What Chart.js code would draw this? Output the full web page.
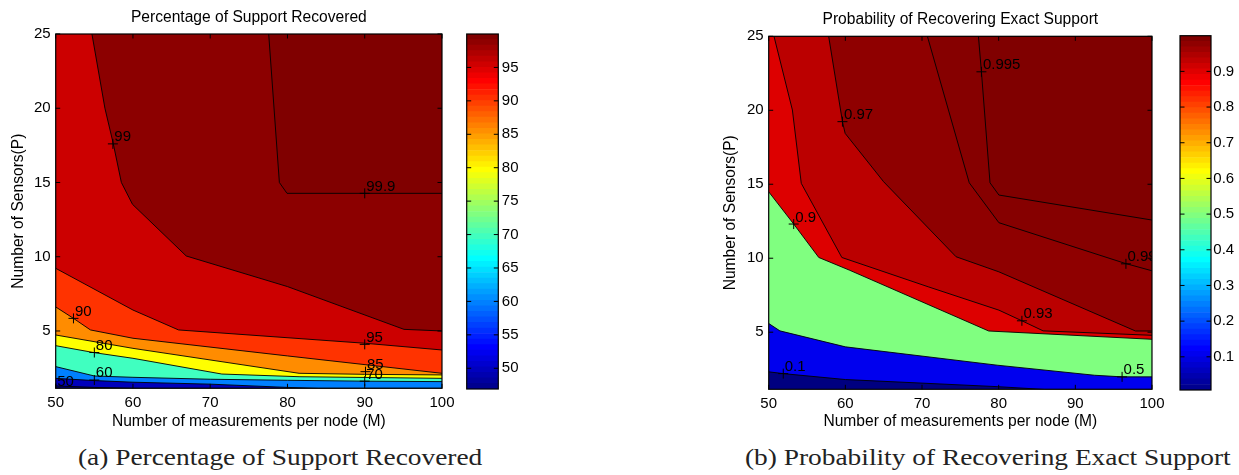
<!DOCTYPE html>
<html>
<head>
<meta charset="utf-8">
<script src="https://cdn.jsdelivr.net/npm/chart.js@4.4.0/dist/chart.umd.min.js"></script>
<style>
    body { margin: 0; background: #fff; }
    #wrap { position: relative; width: 1239px; height: 475px; overflow: hidden; }
    canvas { position: absolute; top: 0; }
    .cap { position: absolute; top: 445px; font-family: "Liberation Serif", "Times New Roman", serif; font-size: 23px; color: #222; white-space: nowrap; transform: scaleX(1.19); transform-origin: left top; }
</style>
</head>
<body>
<div id="wrap">
    <canvas id="pctChart" width="460" height="440" style="left:0"></canvas>
    <canvas id="pctBar" width="80" height="440" style="left:460px"></canvas>
    <canvas id="probChart" width="470" height="440" style="left:700px"></canvas>
    <canvas id="probBar" width="79" height="440" style="left:1160px"></canvas>
    <div class="cap" style="left:78px">(a) Percentage of Support Recovered</div>
    <div class="cap" style="left:745px">(b) Probability of Recovering Exact Support</div>
</div>
<script>
// ── Axes ──
const xTicks = [50, 60, 70, 80, 90, 100];
const yTicks = [5, 10, 15, 20, 25];
const pMin = 1.14;

// ── (a) Percentage of support recovered: contour lines [M, P] ──
const pct50 = [[50, 1.3], [55, 1.2], [60, 1.14], [100, 1.14]];
const pct60 = [[50, 1.81], [55, 1.66], [60, 1.55], [70, 1.42], [80, 1.2], [84, 1.14], [100, 1.14]];
const pct70 = [[50, 2.6], [55, 1.97], [60, 1.88], [70, 1.75], [80, 1.68], [90, 1.62], [100, 1.59]];
const pct80 = [[50, 4.01], [55, 3.54], [60, 3.16], [71.5, 2.1], [81.5, 1.92], [100, 1.81]];
const pct85 = [[50, 4.73], [60, 3.83], [81.5, 2.15], [90, 2.08], [100, 2.04]];
const pct90 = [[50, 6.62], [52.3, 5.85], [54.5, 5.07], [60, 4.51], [80, 3.32], [100, 2.15]];
const pct95 = [[50, 9.22], [60, 6.41], [65.9, 5.07], [90.1, 4.17], [100, 3.72]];
const pct99 = [[54.69, 25], [56.37, 20], [57.44, 17.64], [58.5, 15], [59.94, 13.53], [66.9, 10.05], [80, 7.99], [95.08, 5.11], [100, 5.0]];
const pct999 = [[77.57, 25], [78.95, 15], [79.94, 14.27], [100, 14.27]];
const pctLevels = ['50', '60', '70', '80', '85', '90', '95', '99', '99.9'];
const pctLabelPos = [[50, 1.14], [55, 1.7], [90, 1.62], [55, 3.55], [90.1, 2.26], [52.3, 5.85], [90, 4.1], [57.4, 17.6], [90, 14.27]];
const pctColors = ['#000080', '#0000bb', '#0080ff', '#40ffc0', '#ffff00', '#ff8c00', '#ff3300', '#cc0000', '#8c0000', '#800000'];
const pctRange = [46.9, 100];
const pctBarTicks = [50, 55, 60, 65, 70, 75, 80, 85, 90, 95];

// ── (b) Probability of recovering exact support: contour lines [M, P] ──
const prob01 = [[50, 2.32], [51.9, 2.2], [60, 1.8], [79.8, 1.32], [86, 1.13], [100, 1.13]];
const prob05 = [[50, 5.59], [51.46, 5.09], [60, 4.01], [79.8, 2.77], [92.5, 2.09], [96.1, 1.98], [100, 1.98]];
const prob09 = [[50, 14.49], [53.26, 12.31], [56.53, 10.05], [60.5, 9.2], [78.7, 5.08], [100, 4.52]];
const prob093 = [[50.69, 25], [53.09, 20.02], [54.25, 15.06], [59.54, 10.05], [70.8, 8.07], [80.03, 6.49], [83.03, 5.77], [85.8, 5.09], [100, 4.79]];
const prob097 = [[57.82, 25], [59.62, 19.23], [59.97, 18.44], [64.99, 15.17], [74.44, 10.1], [80.03, 9.08], [97.85, 5.08], [100, 5.08]];
const prob099 = [[70.7, 25], [76.16, 15.1], [80.03, 12.4], [96.56, 9.64], [100, 9.15]];
const prob0995 = [[77.36, 25], [77.75, 22.6], [78.87, 15.1], [80.03, 14.27], [100, 12.58]];
const probLevels = ['0.1', '0.5', '0.9', '0.93', '0.97', '0.99', '0.995'];
const probLabelPos = [[51.9, 2.2], [96.1, 1.98], [53.26, 12.31], [83.03, 5.77], [59.62, 19.23], [96.6, 9.62], [77.75, 22.6]];
const probColors = ['#000080', '#0000ee', '#80ff80', '#dd0000', '#bb0000', '#8f0000', '#860000', '#800000'];
const probRange = [0.007, 1];
const probBarTicks = [0.1, 0.2, 0.3, 0.4, 0.5, 0.6, 0.7, 0.8, 0.9];

// ── Chart Defaults ──
const FONT = "'Liberation Sans', Arial, sans-serif";
Chart.defaults.font.family = FONT;
Chart.defaults.font.size = 15;
Chart.defaults.color = '#000';
Chart.defaults.animation = false;
Chart.defaults.plugins.legend.display = false;
Chart.defaults.plugins.tooltip.enabled = false;

// ── MATLAB jet(64) ──
function jet64(i) {
    const u = k => k < 1 || k > 47 ? 0 : k <= 16 ? k / 16 : k <= 31 ? 1 : (48 - k) / 16;
    const r = i >= 25 ? u(i - 24) : 0;
    const g = i >= 9 && i <= 55 ? u(i - 8) : 0;
    const b = i <= 39 ? u(i + 8) : 0;
    return `rgb(${Math.round(r * 255)},${Math.round(g * 255)},${Math.round(b * 255)})`;
}

// ── Frame, inward ticks, title and contour labels ──
const framePlugin = {
    id: 'frame',
    afterDatasetsDraw(chart, args, opts) {
        const { ctx, chartArea: a, scales } = chart;
        const tl = 4.5;
        ctx.save();
        ctx.strokeStyle = '#000';
        ctx.lineWidth = 1;
        ctx.beginPath();
        if (opts.xTicks) {
            scales.x.ticks.forEach(t => {
                const px = scales.x.getPixelForValue(t.value);
                ctx.moveTo(px, a.bottom); ctx.lineTo(px, a.bottom - tl);
                ctx.moveTo(px, a.top); ctx.lineTo(px, a.top + tl);
            });
        }
        scales.y.ticks.forEach(t => {
            const py = scales.y.getPixelForValue(t.value);
            ctx.moveTo(a.left, py); ctx.lineTo(a.left + tl, py);
            ctx.moveTo(a.right, py); ctx.lineTo(a.right - tl, py);
        });
        ctx.stroke();

        // contour level labels
        const lab = chart.data.datasets.find(d => d.levelText);
        if (lab) {
            ctx.save();
            ctx.beginPath();
            ctx.rect(a.left, a.top, a.width, a.height);
            ctx.clip();
            ctx.font = `15px ${FONT}`;
            ctx.fillStyle = '#000';
            ctx.textBaseline = 'alphabetic';
            lab.data.forEach((p, i) => {
                const px = scales.x.getPixelForValue(p.x);
                const py = scales.y.getPixelForValue(p.y);
                ctx.fillText(lab.levelText[i], px + 1.5, py - 2.5);
            });
            ctx.restore();
        }

        ctx.lineWidth = 1.2;
        ctx.strokeRect(a.left, a.top, a.right - a.left, a.bottom - a.top);

        if (opts.title) {
            ctx.font = `15.6px ${FONT}`;
            ctx.fillStyle = '#000';
            ctx.textAlign = 'center';
            ctx.textBaseline = 'alphabetic';
            ctx.fillText(opts.title, (a.left + a.right) / 2, a.top - 12.3);
        }
        ctx.restore();
    }
};

// ── Filled contour band ──
function band(points, color, border = true) {
    return {
        data: points.map(([x, y]) => ({ x, y })),
        fill: 'end',
        backgroundColor: color,
        borderColor: '#000',
        borderWidth: border ? 0.9 : 0,
        pointRadius: 0,
        tension: 0
    };
}

// ── Create Contour Chart ──
function createContourChart(canvasId, lines, colors, levels, labelPos, box, title) {
    const ctx = document.getElementById(canvasId);
    const bands = [band([[50, pMin], [100, pMin]], colors[0], false)];
    lines.forEach((l, i) => bands.push(band(l, colors[i + 1])));
    const labels = {
        type: 'scatter',
        data: labelPos.map(([x, y]) => ({ x, y })),
        levelText: levels,
        pointStyle: 'cross',
        pointRadius: 5,
        borderColor: '#000',
        borderWidth: 1,
        backgroundColor: '#000'
    };

    // first dataset is drawn on top, so highest level goes first
    return new Chart(ctx, {
        type: 'line',
        data: { datasets: [labels, ...bands.reverse()] },
        options: {
            responsive: false,
            layout: { padding: { top: box.top, right: box.right, bottom: 0, left: 0 } },
            scales: {
                x: {
                    type: 'linear', min: 50, max: 100,
                    afterBuildTicks: s => { s.ticks = xTicks.map(v => ({ value: v })); },
                    afterFit: s => { s.height = box.xh; },
                    grid: { display: false, drawTicks: false },
                    border: { display: false },
                    ticks: { padding: 5.5, maxRotation: 0 },
                    title: { display: true, text: 'Number of measurements per node (M)', font: { size: 15.6 }, padding: { top: 0, bottom: 9 } }
                },
                y: {
                    type: 'linear', min: pMin, max: 25,
                    afterBuildTicks: s => { s.ticks = yTicks.map(v => ({ value: v })); },
                    afterFit: s => { s.width = box.yw; },
                    grid: { display: false, drawTicks: false },
                    border: { display: false },
                    ticks: { padding: 5 },
                    title: { display: true, text: 'Number of Sensors(P)', font: { size: 15.6 }, padding: { top: box.yt, bottom: 0 } }
                }
            },
            plugins: { frame: { xTicks: true, title: title } }
        },
        plugins: [framePlugin]
    });
}

// ── Create Colorbar ──
function createColorbar(canvasId, range, ticks, box) {
    const ctx = document.getElementById(canvasId);
    const step = (range[1] - range[0]) / 64;
    const datasets = Array.from({ length: 64 }, (_, i) => ({
        data: [[range[0] + i * step, range[0] + (i + 1) * step]],
        backgroundColor: jet64(i + 1),
        borderWidth: 0,
        grouped: false,
        barPercentage: 1,
        categoryPercentage: 1
    }));

    return new Chart(ctx, {
        type: 'bar',
        data: { labels: [''], datasets },
        options: {
            responsive: false,
            layout: { padding: { top: box.top, right: 0, bottom: box.bottom, left: box.left } },
            scales: {
                x: { display: false },
                y: {
                    position: 'right', min: range[0], max: range[1],
                    afterBuildTicks: s => { s.ticks = ticks.map(v => ({ value: v })); },
                    afterFit: s => { s.width = box.yw; },
                    grid: { display: false, drawTicks: false },
                    border: { display: false },
                    ticks: { padding: box.pad }
                }
            },
            plugins: { frame: { xTicks: false } }
        },
        plugins: [framePlugin]
    });
}

createContourChart('pctChart',
    [pct50, pct60, pct70, pct80, pct85, pct90, pct95, pct99, pct999],
    pctColors, pctLevels, pctLabelPos,
    { top: 34, right: 16.7, xh: 51.7, yw: 55.7, yt: 9 },
    'Percentage of Support Recovered');

createContourChart('probChart',
    [prob01, prob05, prob09, prob093, prob097, prob099, prob0995],
    probColors, probLevels, probLabelPos,
    { top: 36.3, right: 13.3, xh: 50.7, yw: 68.7, yt: 21.5 },
    'Probability of Recovering Exact Support');

createColorbar('pctBar', pctRange, pctBarTicks, { top: 34, bottom: 51, left: 6.7, yw: 41.7, pad: 3.5 });
createColorbar('probBar', probRange, probBarTicks, { top: 35.7, bottom: 50, left: 20, yw: 28, pad: 2.3 });
</script>
</body>
</html>
